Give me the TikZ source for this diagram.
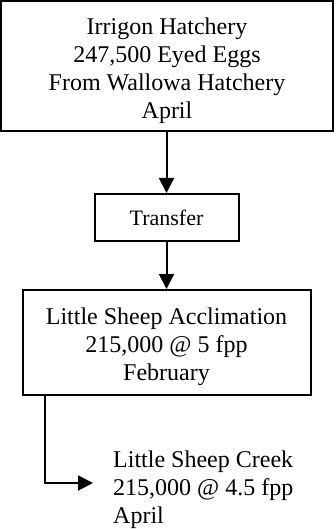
\documentclass[tikz,border=0pt]{standalone}
\usepackage{fontspec}
\setmainfont{Liberation Serif}
\usetikzlibrary{arrows.meta}
\begin{document}
\begin{tikzpicture}[x=1pt,y=-1pt,
  box/.style={draw, line width=2pt, inner sep=0pt, align=center, font=\fontsize{24}{28}\selectfont},
  conn/.style={line width=2pt, -{Triangle[length=15pt,width=15pt]}}]
\useasboundingbox (0,0) rectangle (336,529);
\node[box, minimum width=332pt, minimum height=130pt] (hatch) at (167,66) {\rule{0pt}{27pt}Irrigon Hatchery\\247,500 Eyed Eggs\\From Wallowa Hatchery\\April};
\node[box, minimum width=144pt, minimum height=47pt, font=\fontsize{22}{24}\selectfont] (transfer) at (166.5,217.5) {Transfer};
\node[box, minimum width=288pt, minimum height=105pt] (accl) at (166.5,342.5) {\rule{0pt}{25pt}Little Sheep Acclimation\\215,000 @ 5 fpp\\February};
\node[inner sep=0pt, align=left, anchor=west, font=\fontsize{24}{28}\selectfont] (creek) at (113,490) {Little Sheep Creek\\215,000 @ 4.5 fpp\\April};
\draw[conn] (hatch.south -| transfer.north) -- (transfer.north);
\draw[conn] (transfer.south) -- (accl.north);
\draw[conn] ([xshift=23pt]accl.south west) |- ([xshift=-20pt,yshift=7pt]creek.west);
\end{tikzpicture}
\end{document}
